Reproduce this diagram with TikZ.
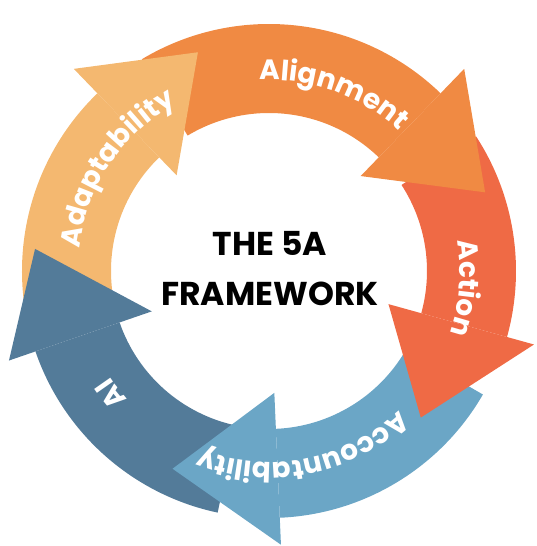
\documentclass[tikz,border=0pt]{standalone}
\usepackage{fontspec}
\setmainfont{Poppins}
\usetikzlibrary{decorations.text}
\definecolor{cAlign}{HTML}{F08A43}
\definecolor{cAction}{HTML}{EF6A45}
\definecolor{cAcc}{HTML}{6BA6C6}
\definecolor{cAI}{HTML}{537B99}
\definecolor{cAdapt}{HTML}{F4B870}
\newcommand{\lblfont}{\fontsize{28}{28}\selectfont\bfseries}
\begin{document}
\begin{tikzpicture}[x=1pt,y=1pt,
  lbl/.style={decorate,decoration={text along path,text align=center,text color=white,text={|\lblfont|#1}}}]
\useasboundingbox (-269,-275) rectangle (268,271);
\def\Ro{247}\def\Ri{158}
% shafts
\foreach \s/\b/\c in {121/46/cAlign, 33/-15.5/cAction, -30/-87.5/cAcc, -102/-161/cAI, -173/-226/cAdapt}{
  \fill[\c] (\s:\Ro) arc[start angle=\s,end angle=\b,radius=\Ro] -- (\b:\Ri) arc[start angle=\b,end angle=\s,radius=\Ri] -- cycle;
}
% heads
\foreach \b/\t/\rt/\wo/\wi/\c in {46/20/230/281/132/cAlign, -15.5/-44/211/275/124/cAction, -87.5/-116/220/274/122/cAcc, -161/-185.4/235/275/124/cAI, -226/-252/230/281/133/cAdapt}{
  \fill[\c] (\b:\Ro) -- (\b:\wo) -- (\t:\rt) -- (\b:\wi) -- (\b:\Ri) -- cycle;
}
% labels
\path[lbl=Alignment] (130:191) arc[start angle=130,end angle=10,radius=191];
\path[lbl=Action] (55:191) arc[start angle=55,end angle=-65,radius=191];
\path[lbl=Accountability] (-19:191) arc[start angle=-19,end angle=-139,radius=191];
\path[lbl=AI] (-82:191) arc[start angle=-82,end angle=-202,radius=191];
\path[lbl=Adaptability] (-154:191) arc[start angle=-154,end angle=-274,radius=191];
\node[font=\fontsize{33}{50}\selectfont\bfseries,align=center] (title) at (1,2) {THE 5A\\FRAMEWORK};
\end{tikzpicture}
\end{document}
